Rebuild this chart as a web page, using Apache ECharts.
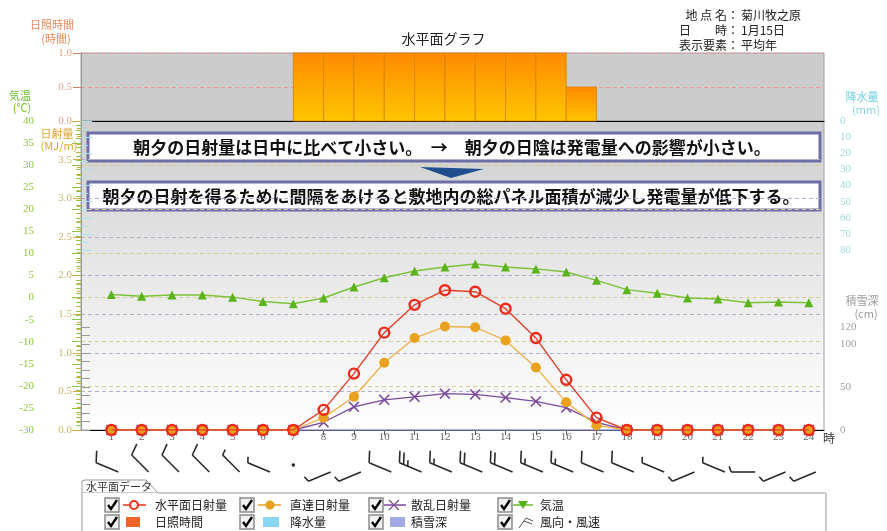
<!DOCTYPE html>
<html><head><meta charset="utf-8">
<script src="https://cdn.jsdelivr.net/npm/echarts@6/dist/echarts.min.js"></script>
<style>html,body{margin:0;padding:0;background:#fff}#c{width:887px;height:531px}</style>
</head><body><div id="c"></div>
<script>
// ---- data ----
const hours = [1,2,3,4,5,6,7,8,9,10,11,12,13,14,15,16,17,18,19,20,21,22,23,24];
const sunshine = [0,0,0,0,0,0,0,1,1,1,1,1,1,1,1,1,0.5,0,0,0,0,0,0,0];
const globalRad = [0,0,0,0,0,0,0,0.26,0.73,1.26,1.62,1.81,1.79,1.57,1.19,0.65,0.16,0,0,0,0,0,0,0];
const directRad = [0,0,0,0,0,0,0,0.16,0.43,0.87,1.19,1.34,1.33,1.16,0.81,0.36,0.06,0,0,0,0,0,0,0];
const diffuseRad = [0,0,0,0,0,0,0,0.10,0.30,0.39,0.43,0.47,0.46,0.42,0.37,0.29,0.10,0,0,0,0,0,0,0];
const temperature = [0.7,0.3,0.6,0.6,0.1,-0.9,-1.4,-0.1,2.4,4.5,6.0,6.9,7.6,6.9,6.5,5.8,3.9,1.8,1.0,-0.1,-0.3,-1.2,-1.0,-1.2];
const precipitation = [0,0,0,0,0,0,0,0,0,0,0,0,0,0,0,0,0,0,0,0,0,0,0,0];
const snowDepth = [0,0,0,0,0,0,0,0,0,0,0,0,0,0,0,0,0,0,0,0,0,0,0,0];
const windDir = [292.5,315,315,315,315,292.5,0,247.5,247.5,292.5,292.5,292.5,292.5,292.5,292.5,292.5,292.5,292.5,292.5,247.5,292.5,270,247.5,247.5];
const windSpeed = [1,1,1,1,0.5,0.5,0,0.5,0.5,1,2.5,1.5,2,2,1.5,1.5,1,1,0.5,0.5,0.5,0.5,0.5,0.5];
const snowTickLabels = [0,50,100,120];
const infoLabels = ['地 点 名：','日　　時：','表示要素：'];
const infoValues = ['菊川牧之原','1月15日','平均年'];
const note1 = '朝夕の日射量は日中に比べて小さい。　→　朝夕の日陰は発電量への影響が小さい。';
const note2 = '朝夕の日射を得るために間隔をあけると敷地内の総パネル面積が減少し発電量が低下する。';
const legendRow1 = ['水平面日射量','直達日射量','散乱日射量','気温'];
const legendRow2 = ['日照時間','降水量','積雪深','風向・風速'];

const CJK = '"Noto Sans CJK JP", sans-serif';
const SERIF = '"Liberation Serif", "DejaVu Serif", serif';
const chart = echarts.init(document.getElementById('c'));

const zip = (a) => hours.map((h,i)=>[h,a[i]]);

function renderSun(params, api){
  const h = api.value(0), v = api.value(1);
  if (!v) return;
  const p0 = api.coord([h-1, v]);
  const p1 = api.coord([h, 0]);
  return {type:'rect', shape:{x:p0[0], y:p0[1], width:p1[0]-p0[0], height:p1[1]-p0[1]},
    style:{fill:new echarts.graphic.LinearGradient(0,0,0,1,[{offset:0,color:'#FF8A00'},{offset:1,color:'#FFC600'}]),
      stroke:'#D98000', lineWidth:0.8}};
}
function renderWind(params, api){
  const h = api.value(0), dir = api.value(1), spd = api.value(2);
  const c = api.coord([h, 0]);
  const col = '#2a2a2a';
  if (!spd) return {type:'circle', shape:{cx:c[0], cy:c[1]-7, r:1.7}, style:{fill:'#222'}};
  const sx = c[0] + 7, sy = c[1];
  const b = dir*Math.PI/180;
  const dx = Math.sin(b), dy = -Math.cos(b);
  const L = 24;
  const tx = sx + L*dx, ty = sy + L*dy;
  const children = [{type:'line', shape:{x1:sx,y1:sy,x2:tx,y2:ty}, style:{stroke:col,lineWidth:1.6}}];
  const phi = 70*Math.PI/180;
  const bx = dx*Math.cos(phi) - dy*Math.sin(phi), by = dx*Math.sin(phi) + dy*Math.cos(phi);
  let rem = spd, k = 0;
  while (rem > 0) {
    const full = rem >= 1;
    const len = full ? 12 : 6;
    const px = tx - k*4.5*dx, py = ty - k*4.5*dy;
    children.push({type:'line', shape:{x1:px,y1:py,x2:px+len*bx,y2:py+len*by}, style:{stroke:col,lineWidth:1.6}});
    rem -= full ? 1 : 0.5; k++;
  }
  return {type:'group', children};
}

// ---- graphics (labels, notes, legend) ----
const g = [];
g.push({type:'text', left:'center', top:32, style:{text:'水平面グラフ', font:'14px '+CJK, fill:'#222'}});
infoLabels.forEach((t,i)=>{
  g.push({type:'text', x:739, y:15+i*15, style:{text:t, font:'12px '+CJK, fill:'#222', textAlign:'right', textVerticalAlign:'middle'}});
  g.push({type:'text', x:741, y:15+i*15, style:{text:infoValues[i], font:'12px '+CJK, fill:'#222', textVerticalAlign:'middle'}});
});
const axisName = (t, x, y, col, align) => g.push({type:'text', x, y, style:{text:t, font:'11px '+CJK, fill:col, textAlign:align||'center', textVerticalAlign:'middle'}});
axisName('日照時間', 52, 25, '#E58A5A');
axisName('(時間)', 56, 39, '#E58A5A');
axisName('気温', 20, 96, '#6DBE2E');
axisName('(℃)', 22, 108, '#6DBE2E');
axisName('日射量', 57, 134, '#D9A830');
axisName('(MJ/m)', 59, 146, '#D9A830');
axisName('降水量', 862, 97, '#6ECFE0');
axisName('(mm)', 866, 110, '#8ED8E6');
axisName('積雪深', 862, 301, '#9A9A9A');
axisName('(cm)', 866, 314, '#9A9A9A');
g.push({type:'text', x:823, y:438, style:{text:'時', font:'12px '+CJK, fill:'#333', textVerticalAlign:'middle'}});
// notes
g.push({type:'rect', shape:{x:88,y:133,width:732,height:28}, style:{fill:'#fff', stroke:'#6E6EA6', lineWidth:3}});
g.push({type:'text', x:452, y:147.5, style:{text:note1, font:'bold 17px '+CJK, fill:'#111', textAlign:'center', textVerticalAlign:'middle'}});
g.push({type:'polygon', shape:{points:[[420,167],[484,169],[451,178]]}, style:{fill:'#1F4F8F'}});
g.push({type:'rect', shape:{x:88,y:182,width:732,height:28}, style:{fill:'#fff', stroke:'#6E6EA6', lineWidth:3}});
g.push({type:'text', x:451, y:196.5, style:{text:note2, font:'bold 17px '+CJK, fill:'#111', textAlign:'center', textVerticalAlign:'middle'}});
// legend panel
g.push({type:'polygon', shape:{points:[[82,493],[82,481],[85,480],[146,480],[158,493]]}, style:{fill:'#fff', stroke:'#999', lineWidth:1}});
g.push({type:'polyline', shape:{points:[[82,493],[82,540],[826,540],[826,493],[158,493]]}, style:{fill:'#fff', stroke:'#999', lineWidth:1}});
g.push({type:'text', x:86, y:487, style:{text:'水平面データ', font:'11px '+CJK, fill:'#333', textVerticalAlign:'middle'}});
const colX = [105, 240, 369, 498];
const rowY = [505, 522];
rowY.forEach(y=>colX.forEach(x=>{
  g.push({type:'rect', shape:{x:x, y:y-7, width:14, height:14}, style:{fill:'#F2F2F2', stroke:'#8A8A8A', lineWidth:1.5}});
  g.push({type:'polyline', shape:{points:[[x+3,y],[x+6,y+4],[x+12,y-5]]}, style:{stroke:'#000', lineWidth:2.4, fill:null}});
}));
// row1 symbols
g.push({type:'line', shape:{x1:123,y1:505,x2:146,y2:505}, style:{stroke:'#EE3322', lineWidth:1.5}});
g.push({type:'circle', shape:{cx:134,cy:505,r:4}, style:{fill:'#fff', stroke:'#EE3322', lineWidth:2.2}});
g.push({type:'line', shape:{x1:258,y1:505,x2:281,y2:505}, style:{stroke:'#E8A020', lineWidth:1.5}});
g.push({type:'circle', shape:{cx:270,cy:505,r:4.5}, style:{fill:'#E8A020'}});
g.push({type:'line', shape:{x1:384,y1:505,x2:406,y2:505}, style:{stroke:'#7A4A9A', lineWidth:1.5}});
g.push({type:'polyline', shape:{points:[[389,500],[399,510]]}, style:{stroke:'#7A4A9A', lineWidth:1.3}});
g.push({type:'polyline', shape:{points:[[399,500],[389,510]]}, style:{stroke:'#7A4A9A', lineWidth:1.3}});
g.push({type:'line', shape:{x1:513,y1:505,x2:533,y2:505}, style:{stroke:'#6DBE2E', lineWidth:1.5}});
g.push({type:'polygon', shape:{points:[[518,501],[528,501],[523,509]]}, style:{fill:'#55B01A'}});
// row2 symbols
g.push({type:'rect', shape:{x:126,y:517,width:14,height:10}, style:{fill:'#F06428'}});
g.push({type:'rect', shape:{x:263,y:517,width:16,height:10}, style:{fill:'#88D6F2'}});
g.push({type:'rect', shape:{x:390,y:517,width:15,height:10}, style:{fill:'#A3A9E2'}});
g.push({type:'polyline', shape:{points:[[519,528],[526,518],[533,521]]}, style:{stroke:'#555', lineWidth:1}});
g.push({type:'polyline', shape:{points:[[524,521],[532,524]]}, style:{stroke:'#555', lineWidth:1}});
legendRow1.forEach((t,i)=>g.push({type:'text', x:[155,290,411,540][i], y:505, style:{text:t, font:'12px '+CJK, fill:'#222', textVerticalAlign:'middle'}}));
legendRow2.forEach((t,i)=>g.push({type:'text', x:[155,290,411,540][i], y:522, style:{text:t, font:'12px '+CJK, fill:'#222', textVerticalAlign:'middle'}}));

const hiddenX = (gi) => ({type:'value', gridIndex:gi, min:0, max:24.5, show:false});
const option = {
  animation:false,
  textStyle:{fontFamily:CJK},
  grid:[
    {left:81, top:53, width:743, height:68, show:true, backgroundColor:'#CCCCCC', borderColor:'#A0A0A0', borderWidth:1},
    {left:81, top:121, width:743, height:309, show:true,
      backgroundColor:new echarts.graphic.LinearGradient(0,0,0,1,[{offset:0,color:'#CDCDCD'},{offset:0.45,color:'#E6E6E6'},{offset:1,color:'#FFFFFF'}]),
      borderColor:'#A0A0A0', borderWidth:1},
    {left:81, top:121, width:743, height:129},
    {left:81, top:327, width:743, height:103},
    {left:81, top:440, width:743, height:32}
  ],
  xAxis:[
    {type:'value', gridIndex:0, min:0, max:24.5, axisLabel:{show:false}, axisTick:{show:false}, splitLine:{show:false},
      axisLine:{show:true, onZero:false, lineStyle:{color:'#000', width:1}}},
    {type:'value', gridIndex:1, min:0, max:24.5, interval:1, splitLine:{show:false},
      axisLine:{show:true, onZero:false, lineStyle:{color:'#000', width:1}},
      axisTick:{show:true, customValues:hours, length:5, lineStyle:{color:'#555'}},
      axisLabel:{show:true, customValues:hours, margin:2, fontFamily:SERIF, fontSize:11, color:'#666'}},
    hiddenX(2), hiddenX(3), hiddenX(4)
  ],
  yAxis:[
    {type:'value', gridIndex:0, min:0, max:1, interval:0.5,
      axisLine:{show:true, lineStyle:{color:'#999'}},
      axisTick:{show:true, length:8, lineStyle:{color:'#C98060'}},
      axisLabel:{margin:9, fontFamily:SERIF, fontSize:11, color:'#E2A58C', formatter:v=>v.toFixed(1)},
      splitLine:{show:true, lineStyle:{color:'#E89A9A', type:[4,3], width:1}}},
    {type:'value', gridIndex:1, min:-30, max:40, interval:5, offset:44, position:'left',
      axisLine:{show:true, lineStyle:{color:'#8CC63E'}},
      axisTick:{show:true, length:9, lineStyle:{color:'#8CC63E'}},
      minorTick:{show:true, splitNumber:5, length:5, lineStyle:{color:'#8CC63E'}},
      axisLabel:{margin:3, fontFamily:SERIF, fontSize:11, color:'#8CC63E'},
      splitLine:{show:false}},
    {type:'value', gridIndex:1, min:0, max:4, interval:0.5, position:'left',
      axisLine:{show:true, lineStyle:{color:'#999'}},
      axisTick:{show:true, length:8, lineStyle:{color:'#D4A83A'}},
      minorTick:{show:true, splitNumber:5, length:4, lineStyle:{color:'#D4A83A'}},
      axisLabel:{margin:9, fontFamily:SERIF, fontSize:11, color:'#CDB36A', formatter:v=> v>=4 ? '' : v.toFixed(1)},
      splitLine:{show:true, lineStyle:{color:'#B4AECB', type:[4,3], width:1}}},
    {type:'value', gridIndex:2, min:0, max:80, interval:10, inverse:true, position:'right',
      axisLine:{show:false},
      axisTick:{show:true, length:11, lineStyle:{color:'#A8E2EE'}},
      minorTick:{show:true, splitNumber:2, length:7, lineStyle:{color:'#A8E2EE'}},
      axisLabel:{margin:16, fontFamily:SERIF, fontSize:11, color:'#9ED8E2'},
      splitLine:{show:false}},
    {type:'value', gridIndex:3, min:0, max:120, interval:10, position:'right',
      axisLine:{show:false},
      axisTick:{show:true, length:9, lineStyle:{color:'#999'}},
      axisLabel:{margin:16, fontFamily:SERIF, fontSize:11, color:'#A0A0A0', customValues:snowTickLabels},
      splitLine:{show:false}},
    {type:'value', gridIndex:4, min:0, max:1, show:false},
    {type:'value', gridIndex:1, min:-30, max:40, interval:10, position:'left',
      axisLine:{show:false}, axisTick:{show:false}, axisLabel:{show:false},
      splitLine:{show:true, lineStyle:{color:'#D6CC96', type:[4,3], width:1}}}
  ],
  series:[
    {type:'custom', name:'日照時間', xAxisIndex:0, yAxisIndex:0, renderItem:renderSun, data:zip(sunshine), z:3},
    {type:'bar', name:'降水量', xAxisIndex:2, yAxisIndex:3, data:zip(precipitation), barWidth:20, itemStyle:{color:'#88D6F2'}},
    {type:'line', name:'積雪深', xAxisIndex:3, yAxisIndex:4, data:zip(snowDepth), symbol:'none', lineStyle:{color:'#A3A9E2', width:1.5}, z:2},
    {type:'line', name:'気温', xAxisIndex:1, yAxisIndex:1, data:zip(temperature), symbol:'triangle', symbolSize:9,
      itemStyle:{color:'#5CB41C'}, lineStyle:{color:'#7CC23A', width:1.5}, z:3},
    {type:'line', name:'散乱日射量', xAxisIndex:1, yAxisIndex:2, data:zip(diffuseRad),
      symbol:'path://M0,1 L1,0 L5,4 L9,0 L10,1 L6,5 L10,9 L9,10 L5,6 L1,10 L0,9 L4,5 Z', symbolSize:11,
      itemStyle:{color:'#7A4A9A'}, lineStyle:{color:'#7A4A9A', width:1.3}, z:4},
    {type:'line', name:'直達日射量', xAxisIndex:1, yAxisIndex:2, data:zip(directRad), symbol:'circle', symbolSize:10,
      itemStyle:{color:'#E9A21E'}, lineStyle:{color:'#EDB04A', width:1.3}, z:5},
    {type:'line', name:'水平面日射量', xAxisIndex:1, yAxisIndex:2, data:zip(globalRad), symbol:'circle', symbolSize:10,
      itemStyle:{color:'rgba(255,255,255,0)', borderColor:'#EE2A1A', borderWidth:2.4}, lineStyle:{color:'#E2402A', width:1.4}, z:6},
    {type:'custom', name:'風向・風速', xAxisIndex:4, yAxisIndex:5, renderItem:renderWind,
      data:hours.map((h,i)=>[h, windDir[i], windSpeed[i]]), z:3}
  ],
  graphic:g
};
chart.setOption(option);
</script></body></html>
